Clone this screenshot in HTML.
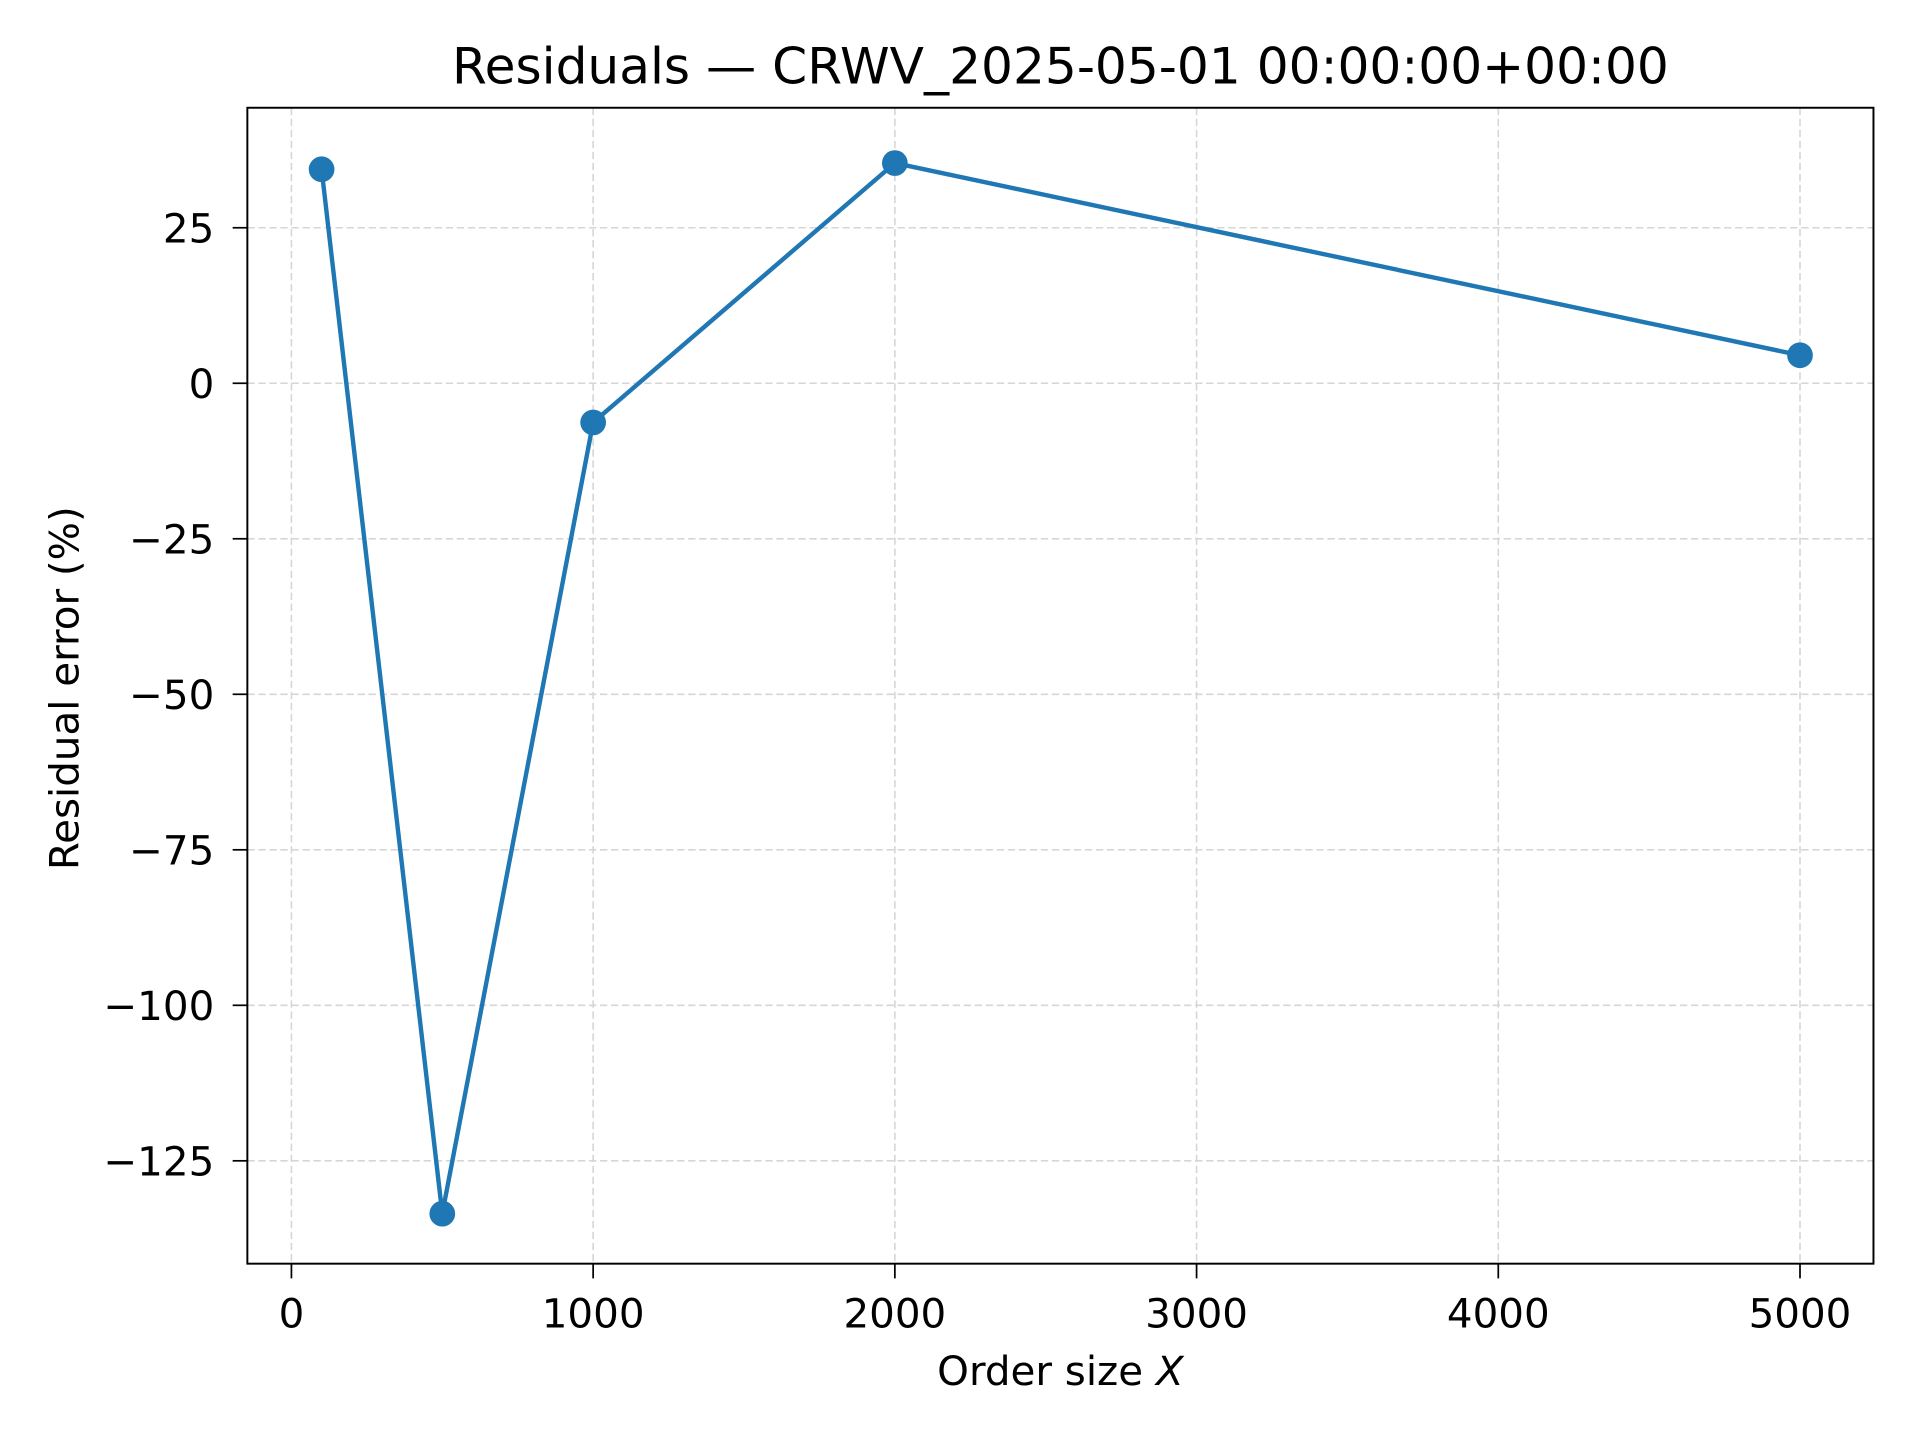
<!DOCTYPE html>
<html><head><meta charset="utf-8"><style>
html,body{margin:0;padding:0;background:#fff}
svg{display:block;font-family:"DejaVu Sans","Liberation Sans",sans-serif}
</style></head><body>
<svg id="chart" width="1920" height="1440" viewBox="0 0 1568 1176" xmlns="http://www.w3.org/2000/svg">
<rect width="1568" height="1176" fill="#fff"/>
<g id="grid"></g>
<g id="series"></g>
<rect x="202" y="88" width="1328" height="944" fill="none" stroke="#000" stroke-width="1.6"/>
<g id="ticks"></g>
<text x="866" y="68" font-size="41" text-anchor="middle">Residuals — CRWV_2025-05-01 00:00:00+00:00</text>
<text x="866" y="1131" font-size="33" text-anchor="middle">Order size <tspan font-style="italic">X</tspan></text>
<text transform="translate(64,562) rotate(-90)" font-size="33" text-anchor="middle">Residual error (%)</text>
</svg>
<script>
const xValues = [100, 500, 1000, 2000, 5000];
const yValues = [34.4, -133.5, -6.3, 35.4, 4.5];
const xTicks = [0, 1000, 2000, 3000, 4000, 5000];
const yTicks = [25, 0, -25, -50, -75, -100, -125];

const NS = "http://www.w3.org/2000/svg";
function xs(v){ return 238 + v * 0.2464; }
function ys(v){ return 313 - v * 5.08; }
function mk(tag, attrs, parent){
  const e = document.createElementNS(NS, tag);
  for (const k in attrs) e.setAttribute(k, attrs[k]);
  parent.appendChild(e); return e;
}
const grid = document.getElementById('grid');
const ticks = document.getElementById('ticks');
const series = document.getElementById('series');

xTicks.forEach(t => {
  const x = xs(t);
  const g = mk('line', {x1:x, x2:x, y1:88, y2:1032, stroke:'#d6d6d6', 'stroke-width':1.3, 'stroke-dasharray':'6,3'}, grid);
  
  
  const tk = mk('line', {x1:x, x2:x, y1:1032, y2:1044, stroke:'#000', 'stroke-width':1.4}, ticks);
  
  
  const lb = mk('text', {x:x, y:1084, 'font-size':33, 'text-anchor':'middle'}, ticks);
  lb.textContent = String(t);
  
  
});
yTicks.forEach(t => {
  const y = ys(t);
  const g = mk('line', {x1:202, x2:1530, y1:y, y2:y, stroke:'#d6d6d6', 'stroke-width':1.3, 'stroke-dasharray':'6,3'}, grid);
  
  
  const tk = mk('line', {x1:190, x2:202, y1:y, y2:y, stroke:'#000', 'stroke-width':1.4}, ticks);
  
  
  const lb = mk('text', {x:175, y:y + 12, 'font-size':33, 'text-anchor':'end'}, ticks);
  lb.textContent = t < 0 ? '\u2212' + Math.abs(t) : String(t);
  
  
});
const pts = xValues.map((v, i) => xs(v) + ',' + ys(yValues[i])).join(' ');
const line = mk('polyline', {points:pts, fill:'none', stroke:'#1f77b4', 'stroke-width':3.6, 'stroke-linejoin':'round'}, series);


xValues.forEach((v, i) => {
  const c = mk('circle', {cx:xs(v), cy:ys(yValues[i]), r:10.5, fill:'#1f77b4'}, series);
  
  
});
</script>
</body></html>
